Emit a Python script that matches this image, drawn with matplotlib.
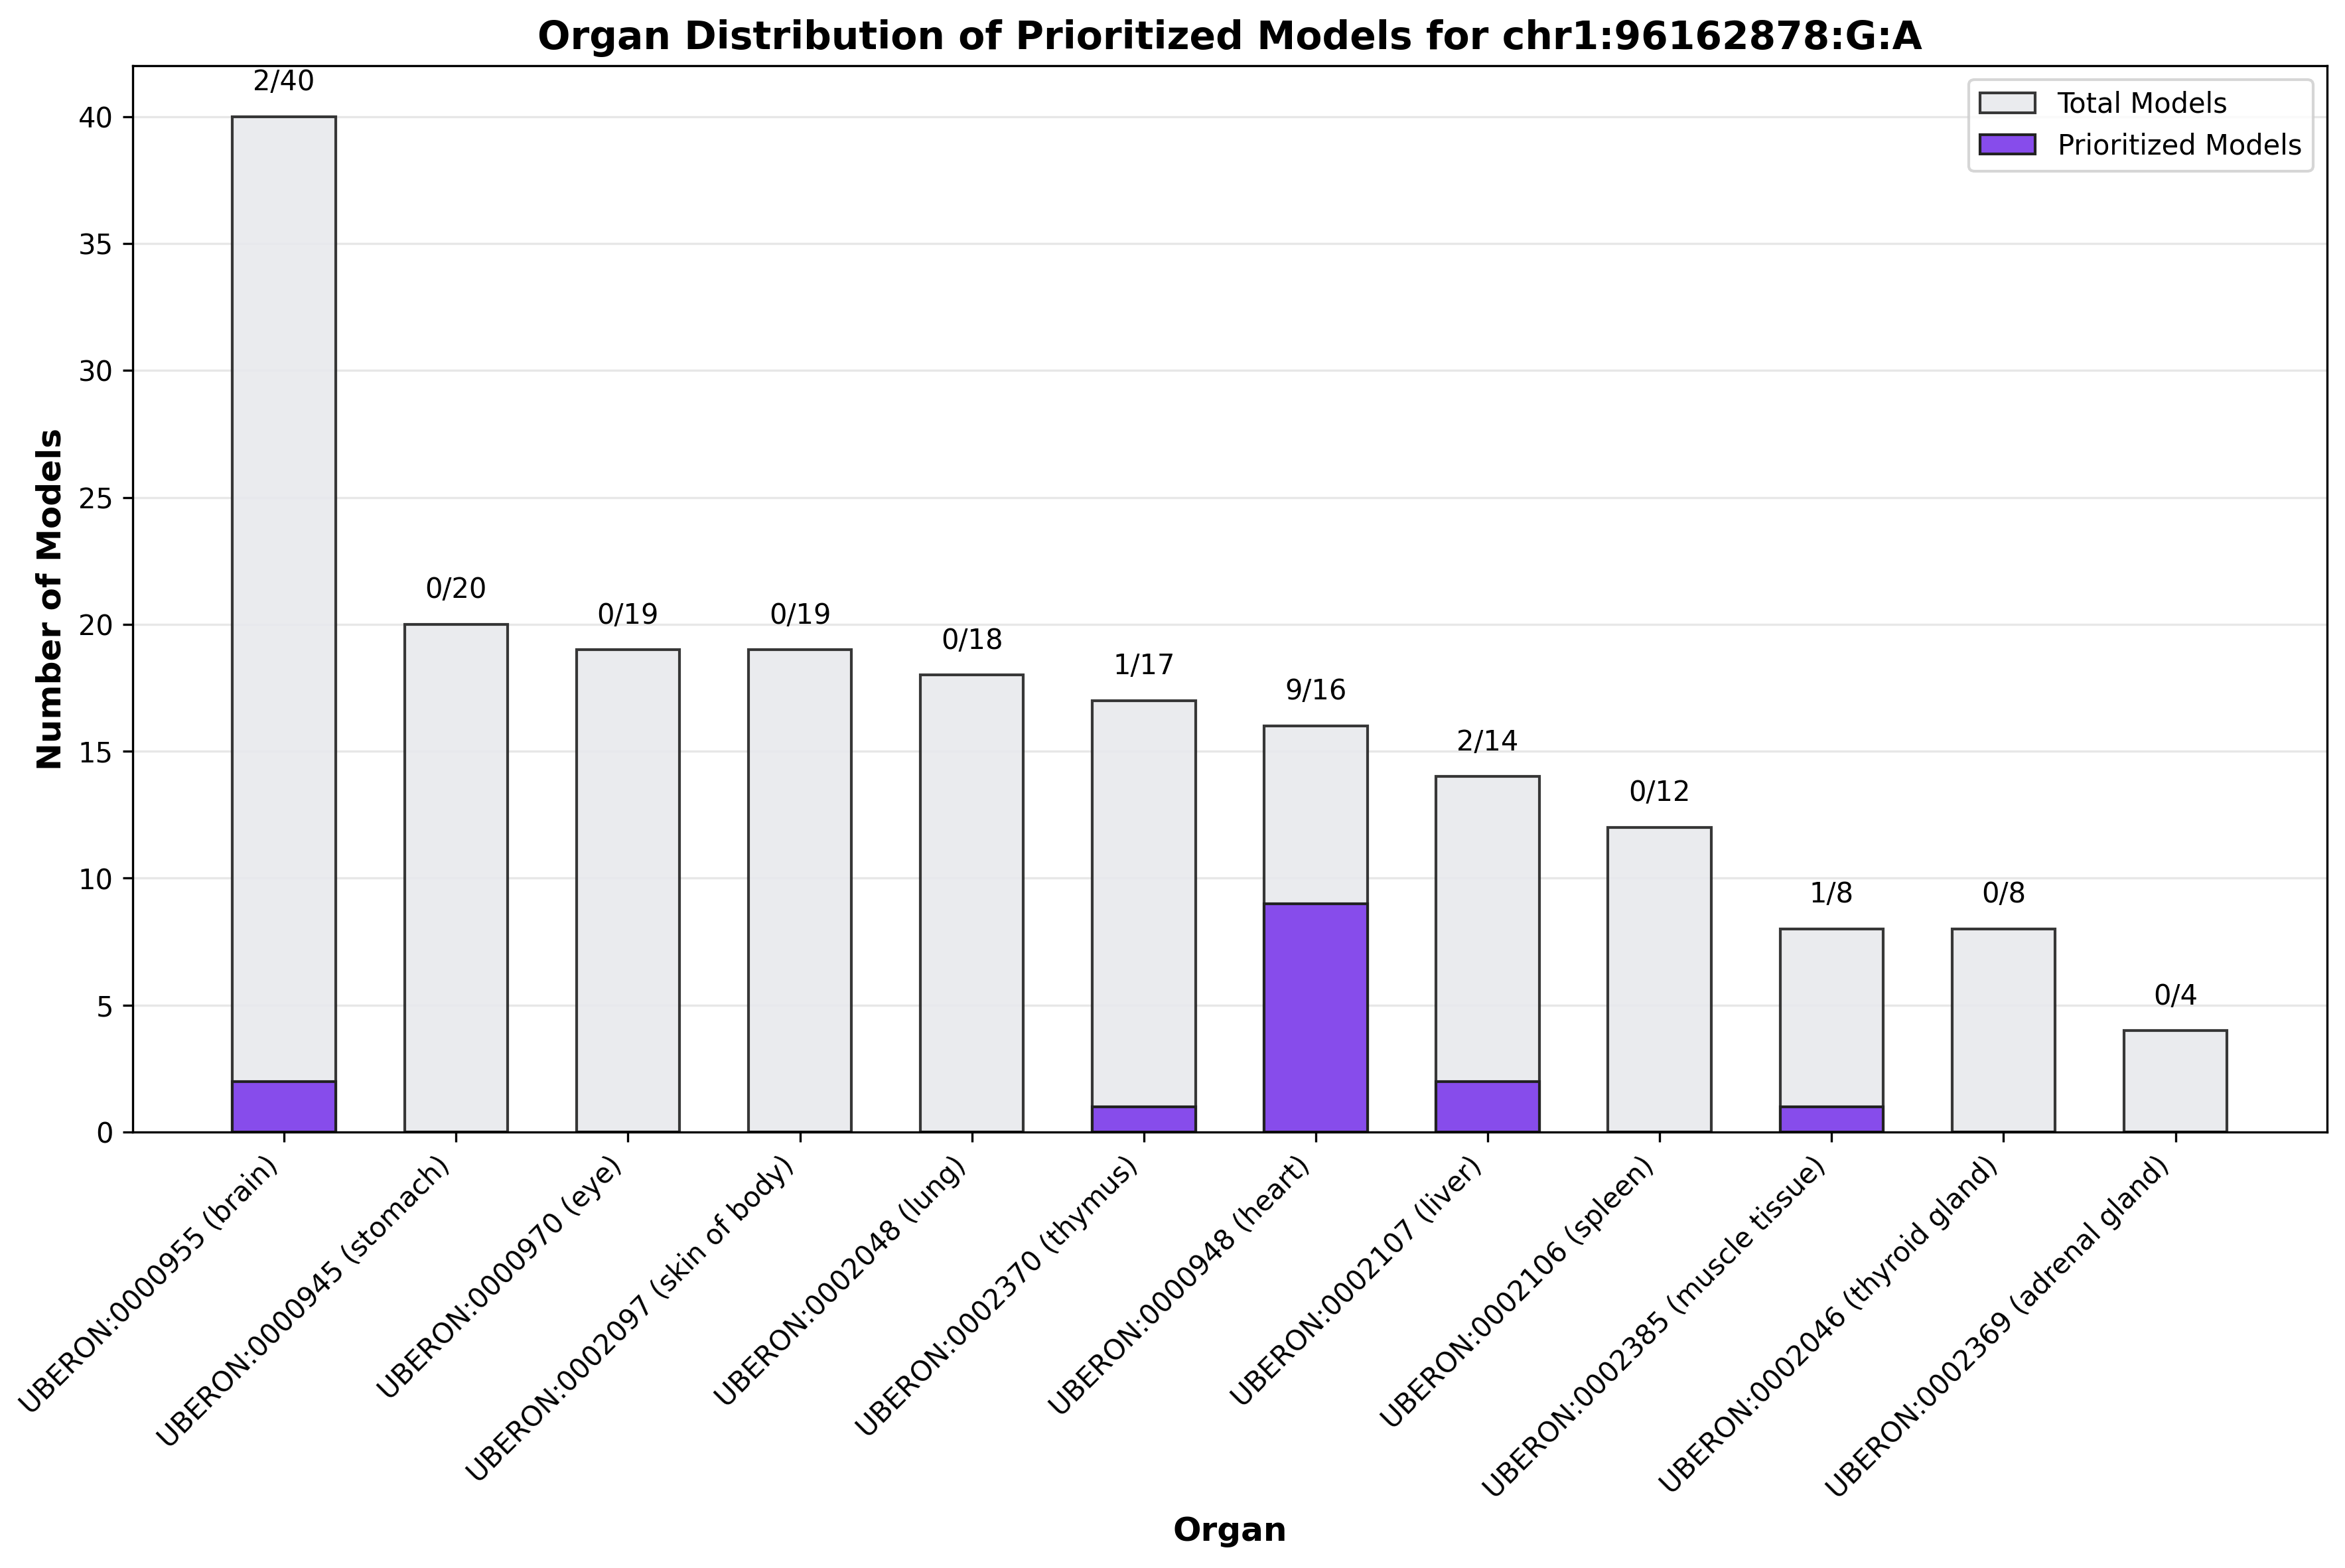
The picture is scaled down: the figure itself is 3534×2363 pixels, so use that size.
import numpy as np
import matplotlib.pyplot as plt

organs = ['UBERON:0000955 (brain)', 'UBERON:0000945 (stomach)', 'UBERON:0000970 (eye)',
          'UBERON:0002097 (skin of body)', 'UBERON:0002048 (lung)', 'UBERON:0002370 (thymus)',
          'UBERON:0000948 (heart)', 'UBERON:0002107 (liver)', 'UBERON:0002106 (spleen)',
          'UBERON:0002385 (muscle tissue)', 'UBERON:0002046 (thyroid gland)',
          'UBERON:0002369 (adrenal gland)']
total_models = [40, 20, 19, 19, 18, 17, 16, 14, 12, 8, 8, 4]
prioritized_models = [2, 0, 0, 0, 0, 1, 9, 2, 0, 1, 0, 0]

fig, ax = plt.subplots(figsize=(11.783, 7.877), dpi=300)
fig.subplots_adjust(left=0.0566, right=0.992, top=0.958, bottom=0.278)

x = np.arange(len(organs))
width = 0.6

ax.bar(x, total_models, width, color='#e8e9ed', edgecolor='#222222', linewidth=1,
       alpha=0.9, label='Total Models')
ax.bar(x, prioritized_models, width, color='#874ceb', edgecolor='#222222', linewidth=1,
       label='Prioritized Models')

# count labels over each bar
for i, (t, p) in enumerate(zip(total_models, prioritized_models)):
    ax.text(x[i], t + 0.8, f"{p}/{t}", ha='center', va='bottom', fontsize=10)

ax.set_xticks(x)
ax.set_xticklabels(organs, rotation=45, ha='right', fontsize=10)
ax.set_ylim(0, 42)
ax.set_xlabel('Organ', fontsize=12, fontweight='bold')
ax.set_ylabel('Number of Models', fontsize=12, fontweight='bold')
ax.set_title('Organ Distribution of Prioritized Models for chr1:96162878:G:A',
             fontsize=14, fontweight='bold')
ax.grid(axis='y', alpha=0.3)
ax.set_axisbelow(True)
ax.legend(loc='upper right')

fig.savefig('out.png', dpi=300)
